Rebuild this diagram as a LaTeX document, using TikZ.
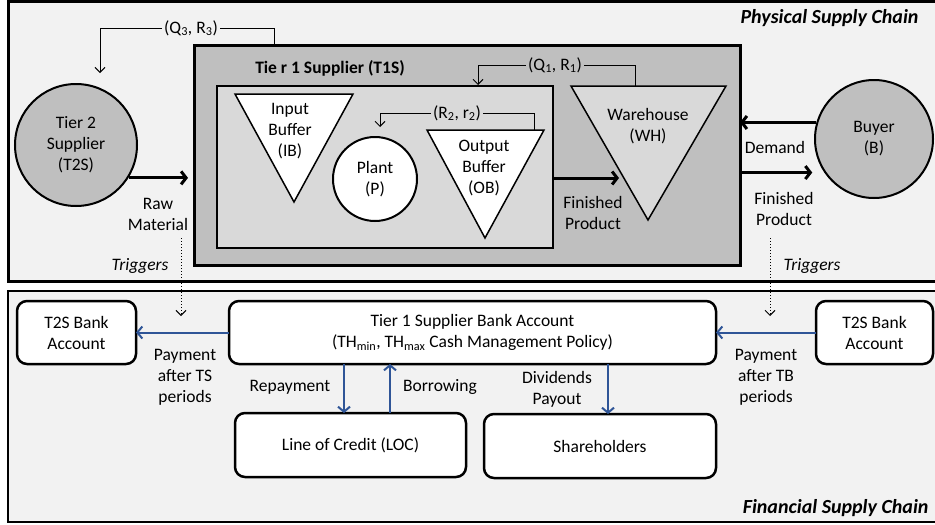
\documentclass[tikz,border=0pt]{standalone}
\usepackage{fontspec}
\setmainfont{Carlito}
\usetikzlibrary{positioning,arrows.meta}

\definecolor{PanelGray}{HTML}{F2F2F2}
\definecolor{DarkGray}{HTML}{BFBFBF}
\definecolor{LightGray}{HTML}{D9D9D9}
\definecolor{PayBlue}{HTML}{2F5597}

\begin{document}
\begin{tikzpicture}[x=1pt, y=-1pt, node distance = 0pt,
font=\fontsize{17.5}{21}\selectfont,
PanelStyle/.style={draw, line width=3pt, fill=PanelGray},
TitleStyle/.style={anchor=east, font=\fontsize{20}{24}\selectfont\bfseries\itshape},
BoxStyle/.style={draw, line width=3pt, minimum width=#1, outer sep=0pt},
CircleStyle/.style={draw, circle, line width=2pt, fill=DarkGray,
                minimum size=#1, align=center, inner sep=0pt},
BufferStyle/.style={draw, line width=1.5pt, line join=miter},
TextStyle/.style={align=center, inner sep=2pt},
BankStyle/.style={draw, line width=2.5pt, rounded corners=10pt, fill=white,
                align=center, minimum height=63pt, outer sep=0pt},
FlowStyle/.style={line width=3pt, -{Straight Barb[length=5pt, width=13pt]}},
FeedStyle/.style={line width=1pt, -{Straight Barb[length=5pt, width=10pt]}},
TrigStyle/.style={line width=1pt, dotted, -{Straight Barb[length=5pt, width=10pt]}},
PayStyle/.style={line width=2pt, draw=PayBlue, -{Straight Barb[length=5pt, width=12pt]}},]
\useasboundingbox (0,0) rectangle (935,525);

% panels
\draw[PanelStyle] (8,1) rectangle (945,281);
\draw[PanelStyle, line width=2pt] (8,291) rectangle (945,522);
\node [TitleStyle] (phys) at (922,18) {Physical Supply Chain};
\node [TitleStyle] (fin) at (932,508) {Financial Supply Chain};

% physical supply chain
\node [BoxStyle=546pt, minimum height=220pt, fill=DarkGray] (t1s) at (467,155) {};
\node [BoxStyle=336pt, minimum height=162pt, fill=LightGray, line width=2pt] (inner) at (385,167) {};
\node [TextStyle, font=\fontsize{17.5}{21}\selectfont\bfseries] (t1slab) at (330,68) {Tie r 1 Supplier (T1S)};

\draw[BufferStyle, fill=white] (235,94) -- (353,94) -- (294,202) -- cycle;
\draw[BufferStyle, fill=white] (427,130) -- (544,130) -- (485,238) -- cycle;
\draw[BufferStyle, fill=LightGray] (571,86) -- (726,86) -- (648,220) -- cycle;
\node [TextStyle] (ib) at (290,131) {Input\\Buffer\\(IB)};
\node [TextStyle] (ob) at (484,168) {Output\\Buffer\\(OB)};
\node [TextStyle] (wh) at (648,126) {Warehouse\\(WH)};
\node [CircleStyle=84pt, fill=white] (plant) at (375,179) {Plant\\(P)};

\node [CircleStyle=122pt] (t2s) at (76,145) {Tier 2\\Supplier\\(T2S)};
\node [CircleStyle=118pt] (buyer) at (874,139) {Buyer\\(B)};

\coordinate (whleft) at (619,178);
\draw[FlowStyle] (t2s.-32) -- ([xshift=-6pt]t1s.west |- t2s.-32);
\draw[FlowStyle] (inner.east |- whleft) -- (whleft);
\draw[FlowStyle] (buyer.164) -- (t1s.east |- buyer.164);
\draw[FlowStyle] ([xshift=2pt]t1s.east |- buyer.214) -- ([xshift=-12pt]buyer.214);
\node [TextStyle] (raw) at (158,214) {Raw\\Material};
\node [TextStyle] (fin1) at (593,213) {Finished\\Product};
\node [TextStyle] (dem) at (775,147) {Demand};
\node [TextStyle] (fin2) at (784,209) {Finished\\Product};

% reorder loops
\node [TextStyle] (q3) at (191,28) {(Q\textsubscript{3}, R\textsubscript{3})};
\coordinate (q3in) at (274,45);
\coordinate (q3out) at (100,73);
\draw[line width=1pt] (q3.east) -| (q3in);
\draw[FeedStyle] (q3.west) -| (q3out);
\node [TextStyle] (q1) at (555,65) {(Q\textsubscript{1}, R\textsubscript{1})};
\coordinate (q1in) at (635,86);
\coordinate (q1out) at (478,85);
\draw[line width=1pt] (q1.east) -| (q1in);
\draw[FeedStyle] (q1.west) -| (q1out);
\node [TextStyle] (r2) at (457,113) {(R\textsubscript{2}, r\textsubscript{2})};
\coordinate (r2in) at (534,130);
\coordinate (r2out) at (380,127);
\draw[line width=1pt] (r2.east) -| (r2in);
\draw[FeedStyle] (r2.west) -| (r2out);

% triggers
\coordinate (trigl1) at (181,238);
\coordinate (trigl2) at (181,316);
\coordinate (trigr1) at (770,238);
\coordinate (trigr2) at (770,316);
\draw[TrigStyle] (trigl1) -- (trigl2);
\draw[TrigStyle] (trigr1) -- (trigr2);
\node [TextStyle, font=\fontsize{17.5}{21}\selectfont\itshape] (trigl) at (140,266) {Triggers};
\node [TextStyle, font=\fontsize{17.5}{21}\selectfont\itshape] (trigr) at (812,266) {Triggers};

% financial supply chain
\node [BankStyle, minimum width=119pt] (t2sb) at (76.5,332.5) {T2S Bank\\Account};
\node [BankStyle, minimum width=487pt] (t1b) at (472.5,332.5)
      {Tier 1 Supplier Bank Account\\(TH\textsubscript{min}, TH\textsubscript{max} Cash Management Policy)};
\node [BankStyle, minimum width=117pt] (tbb) at (874.5,332.5) {T2S Bank\\Account};
\node [BankStyle, minimum width=231pt, minimum height=64pt] (loc) at (350.5,445) {Line of Credit (LOC)};
\node [BankStyle, minimum width=232pt, minimum height=64pt] (sh) at (600,446) {Shareholders};

\coordinate (rep) at ([xshift=-6.5pt]loc.north);
\coordinate (bor) at ([xshift=39.5pt]loc.north);
\coordinate (div) at ([xshift=8pt]sh.north);
\draw[PayStyle] (t1b.west) -- (t2sb.east);
\draw[PayStyle] (tbb.west) -- (t1b.east);
\draw[PayStyle] (rep |- t1b.south) -- (rep);
\draw[PayStyle] (bor) -- (bor |- t1b.south);
\draw[PayStyle] (div |- t1b.south) -- (div);
\node [TextStyle] (payts) at (185,377) {Payment\\after TS\\periods};
\node [TextStyle] (paytb) at (766,377) {Payment\\after TB\\periods};
\node [TextStyle] (repl) at (290,387) {Repayment};
\node [TextStyle] (borl) at (440,387) {Borrowing};
\node [TextStyle] (divl) at (557,389) {Dividends\\Payout};
\end{tikzpicture}
\end{document}
